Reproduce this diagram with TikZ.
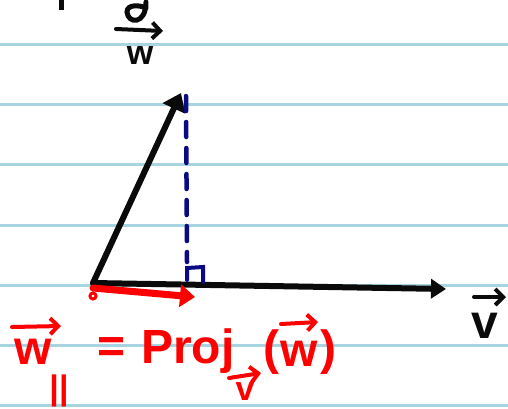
\documentclass[tikz,border=0pt]{standalone}
\usepackage{fontspec}
\setmainfont{Liberation Sans}
\usetikzlibrary{arrows.meta}
\definecolor{ruled}{RGB}{168,212,226}
\definecolor{pen}{RGB}{10,10,10}
\definecolor{redpen}{RGB}{255,0,0}
\definecolor{bluepen}{RGB}{10,10,130}
\tikzset{
  ruleline/.style={ruled, line width=3pt},
  vecline/.style={pen, line width=6pt, line cap=round},
  redline/.style={redpen, line width=7pt, line cap=round},
  perp/.style={bluepen, line width=4.5pt, line cap=round, dash pattern=on 15pt off 11pt},
  lbl/.style={inner sep=0pt, font=\bfseries\fontsize{48}{48}\selectfont},
  sublbl/.style={inner sep=0pt, font=\bfseries\fontsize{34}{34}\selectfont},
  lblarrow/.style={line width=4pt, line cap=round, -{Straight Barb[length=8pt,width=16pt,line width=4pt]}},
}
\begin{document}
\begin{tikzpicture}[x=1pt,y=-1pt]
\useasboundingbox (0,0) rectangle (508,408);
% ruled lines
\foreach \yy in {44,104,164,225,285,345,405}
  \draw[ruleline] (0,\yy) -- (508,\yy);
% points
\coordinate (O) at (93,283);
\coordinate (W) at (181,93);
\coordinate (V) at (446,289);
\coordinate (Wtop) at (186,96);
\coordinate (Foot) at (187,262);
\coordinate (R) at (195,297);
\coordinate (Rstart) at (93,288);
% vectors
\draw[vecline, -{Triangle[length=17pt,width=24pt]}] (O) -- (W);
\draw[vecline, -{Triangle[length=15pt,width=19pt]}] (O) -- (V);
% perpendicular
\draw[perp] (Wtop) -- (Foot);
\draw[bluepen, line width=4pt, line cap=round] (187,280) -- (187,268) -- (203,267) -- (203,282);
% projection
\draw[redline, -{Triangle[length=15pt,width=22pt]}] (Rstart) -- (R);
\draw[redpen, line width=3pt] (93,296) circle (3);
% v label
\node[lbl, pen] (vlab) at (485,326) {v};
\coordinate (va) at (474,297);
\coordinate (vb) at (506,297);
\draw[lblarrow, pen] (va) -- (vb);
% top fragment label
\node[sublbl, pen] (wtop) at (140,56) {w};
\coordinate (ta) at (116,29);
\coordinate (tb) at (163,31);
\draw[lblarrow, pen] (ta) -- (tb);
\draw[pen, line width=5pt, line cap=round] (146,2) .. controls (146,25) and (128,24) .. (127,12) .. controls (127,4) and (140,5) .. (146,8);
\draw[pen, line width=5pt] (61,0) -- (61,10);
% equation
\node[lbl, redpen] (wpar) at (33,352) {w};
\coordinate (wa) at (12,327);
\coordinate (wb) at (61,326);
\draw[lblarrow, redpen] (wa) -- (wb);
\node[sublbl, redpen, anchor=center] (para) at (59,391) {||};
\node[lbl, redpen] (eq) at (112,350) {=};
\node[lbl, redpen, anchor=base west] (proj) at (141,363) {Proj};
\node[sublbl, redpen] (vsub) at (245,392) {v};
\coordinate (sa) at (229,378);
\coordinate (sb) at (261,373);
\draw[lblarrow, redpen] (sa) -- (sb);
\node[lbl, redpen] (lp) at (271,352) {(};
\node[lbl, redpen] (warg) at (299,354) {w};
\coordinate (xa) at (281,324);
\coordinate (xb) at (318,322);
\draw[lblarrow, redpen] (xa) -- (xb);
\node[lbl, redpen] (rp) at (328,352) {)};
\end{tikzpicture}
\end{document}
